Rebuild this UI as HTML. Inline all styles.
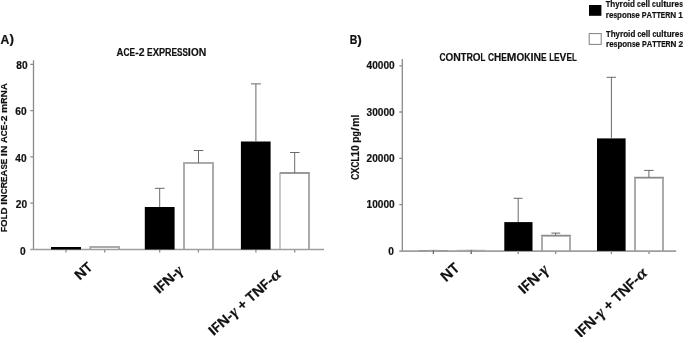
<!DOCTYPE html>
<html><head><meta charset="utf-8">
<style>
html,body{margin:0;padding:0;background:#fff;width:685px;height:337px;overflow:hidden}
svg{display:block;will-change:transform}
text{font-family:"Liberation Sans",sans-serif;font-weight:bold;fill:#111;stroke:#111;stroke-width:0.2px}
.ax{stroke:#8a8a8a;stroke-width:1.3;fill:none}
.eb{stroke:#6a6a6a;stroke-width:1;fill:none}
.wb{fill:none;stroke:#ababab;stroke-width:2}
.wt{stroke:#8a8a8a;stroke-width:1.1;fill:none}
.tk{font-size:10.5px}
.xl{font-size:14.2px}
.gr{font-family:"Liberation Serif",serif;font-style:italic;font-weight:bold;font-size:16px}
</style></head>
<body>
<svg width="685" height="337" viewBox="0 0 685 337">
<g style="stroke-width:0.45px"><text x="0.6" y="43.7" font-size="12.2">A</text><text x="9.5" y="43.3" font-size="13.6">)</text></g>
<g style="stroke-width:0.3px"><text transform="translate(116.60,55.80) scale(0.906,1)" font-size="10.6">A</text><text transform="translate(123.53,55.80) scale(0.791,1)" font-size="10.6">C</text><text transform="translate(129.58,55.80) scale(0.790,1)" font-size="10.6">E</text><text transform="translate(135.17,55.80) scale(0.992,1)" font-size="10.6">-</text><text transform="translate(138.67,55.80) scale(0.984,1)" font-size="10.6">2</text><text transform="translate(147.05,55.80) scale(0.790,1)" font-size="10.6">E</text><text transform="translate(152.64,55.80) scale(0.892,1)" font-size="10.6">X</text><text transform="translate(158.94,55.80) scale(0.861,1)" font-size="10.6">P</text><text transform="translate(165.03,55.80) scale(0.841,1)" font-size="10.6">R</text><text transform="translate(171.47,55.80) scale(0.790,1)" font-size="10.6">E</text><text transform="translate(177.05,55.80) scale(0.765,1)" font-size="10.6">S</text><text transform="translate(182.46,55.80) scale(0.765,1)" font-size="10.6">S</text><text transform="translate(187.87,55.80) scale(1.037,1)" font-size="10.6">I</text><text transform="translate(190.93,55.80) scale(0.938,1)" font-size="10.6">O</text><text transform="translate(198.66,55.80) scale(0.985,1)" font-size="10.6">N</text></g>
<g transform="translate(7.4,232.1) rotate(-90)" style="stroke-width:0.3px"><text transform="translate(0.00,0.00) scale(0.886,1)" font-size="9.6">F</text><text transform="translate(5.19,0.00) scale(1.024,1)" font-size="9.6">O</text><text transform="translate(12.84,0.00) scale(0.816,1)" font-size="9.6">L</text><text transform="translate(17.63,0.00) scale(1.028,1)" font-size="9.6">D</text><text transform="translate(27.32,0.00) scale(1.133,1)" font-size="9.6">I</text><text transform="translate(30.34,0.00) scale(1.076,1)" font-size="9.6">N</text><text transform="translate(37.79,0.00) scale(0.863,1)" font-size="9.6">C</text><text transform="translate(43.78,0.00) scale(0.919,1)" font-size="9.6">R</text><text transform="translate(50.15,0.00) scale(0.862,1)" font-size="9.6">E</text><text transform="translate(55.67,0.00) scale(0.989,1)" font-size="9.6">A</text><text transform="translate(62.53,0.00) scale(0.836,1)" font-size="9.6">S</text><text transform="translate(67.88,0.00) scale(0.862,1)" font-size="9.6">E</text><text transform="translate(75.96,0.00) scale(1.133,1)" font-size="9.6">I</text><text transform="translate(78.98,0.00) scale(1.076,1)" font-size="9.6">N</text><text transform="translate(88.99,0.00) scale(0.989,1)" font-size="9.6">A</text><text transform="translate(95.85,0.00) scale(0.863,1)" font-size="9.6">C</text><text transform="translate(101.84,0.00) scale(0.862,1)" font-size="9.6">E</text><text transform="translate(107.36,0.00) scale(1.083,1)" font-size="9.6">-</text><text transform="translate(110.82,0.00) scale(1.074,1)" font-size="9.6">2</text><text transform="translate(119.12,0.00) scale(1.078,1)" font-size="9.6">m</text><text transform="translate(128.32,0.00) scale(0.919,1)" font-size="9.6">R</text><text transform="translate(134.69,0.00) scale(1.076,1)" font-size="9.6">N</text><text transform="translate(142.14,0.00) scale(0.989,1)" font-size="9.6">A</text></g>
<g class="tk" text-anchor="end" style="font-size:10.5px">
<text x="27.6" y="69.0" textLength="11.3" lengthAdjust="spacingAndGlyphs">80</text>
<text x="26.6" y="115.3" textLength="11.3" lengthAdjust="spacingAndGlyphs">60</text>
<text x="26.6" y="161.5" textLength="11.3" lengthAdjust="spacingAndGlyphs">40</text>
<text x="27.1" y="208.2" textLength="11.3" lengthAdjust="spacingAndGlyphs">20</text>
<text x="25.7" y="254.9" textLength="5.65" lengthAdjust="spacingAndGlyphs">0</text>
</g>
<path class="ax" d="M33.5 60.3V249.5M30.3 64.3H33.5M30.3 110.6H33.5M30.3 156.9H33.5M30.3 203.2H33.5"/>
<path class="ax" d="M66 249.5v3M104.7 249.5v3M159.7 249.5v3M198.4 249.5v3M255.9 249.5v3M294.7 249.5v3" stroke-width="1"/>
<path class="wb" d="M90.3 249.5V247H119V249.5"/>
<path class="wb" d="M184 249.5V163H213V249.5"/>
<path class="wb" d="M280 249.5V173" style="stroke:#c6c6c6"/><path class="wb" d="M280 173H309V249.5"/><path class="wt" d="M279.5 173H309.5"/>
<path class="ax" d="M30.3 249.5H324" style="stroke:#9e9e9e;stroke-width:1.6"/>
<rect x="51" y="247" width="30" height="2.5" fill="#000"/>
<rect x="144.8" y="207" width="29.8" height="42.5" fill="#000"/>
<rect x="240.9" y="141.5" width="29.7" height="108" fill="#000"/>
<path class="eb" d="M159.7 207V188.3M154.8 188.3H164.6M198.5 163V150.5M193.8 150.5H203.3M255.9 141.5V83.9M251 83.9H260.9M294.7 173V152.5M290 152.5H299.6"/>
<g style="stroke-width:0.45px"><text x="349.8" y="43.9" font-size="12.2" textLength="7.6" lengthAdjust="spacingAndGlyphs">B</text><text x="357.2" y="43.5" font-size="13.6">)</text></g>
<g style="stroke-width:0.3px"><text transform="translate(439.40,61.40) scale(0.769,1)" font-size="10.9">C</text><text transform="translate(445.45,61.40) scale(0.912,1)" font-size="10.9">O</text><text transform="translate(453.18,61.40) scale(0.958,1)" font-size="10.9">N</text><text transform="translate(460.72,61.40) scale(0.850,1)" font-size="10.9">T</text><text transform="translate(466.38,61.40) scale(0.818,1)" font-size="10.9">R</text><text transform="translate(472.82,61.40) scale(0.912,1)" font-size="10.9">O</text><text transform="translate(480.56,61.40) scale(0.727,1)" font-size="10.9">L</text><text transform="translate(487.98,61.40) scale(0.769,1)" font-size="10.9">C</text><text transform="translate(494.03,61.40) scale(0.917,1)" font-size="10.9">H</text><text transform="translate(501.25,61.40) scale(0.768,1)" font-size="10.9">E</text><text transform="translate(506.83,61.40) scale(1.058,1)" font-size="10.9">M</text><text transform="translate(516.44,61.40) scale(0.912,1)" font-size="10.9">O</text><text transform="translate(524.17,61.40) scale(0.795,1)" font-size="10.9">K</text><text transform="translate(530.43,61.40) scale(1.009,1)" font-size="10.9">I</text><text transform="translate(533.48,61.40) scale(0.958,1)" font-size="10.9">N</text><text transform="translate(541.02,61.40) scale(0.768,1)" font-size="10.9">E</text><text transform="translate(549.19,61.40) scale(0.727,1)" font-size="10.9">L</text><text transform="translate(554.03,61.40) scale(0.768,1)" font-size="10.9">E</text><text transform="translate(559.61,61.40) scale(0.931,1)" font-size="10.9">V</text><text transform="translate(566.38,61.40) scale(0.768,1)" font-size="10.9">E</text><text transform="translate(571.96,61.40) scale(0.727,1)" font-size="10.9">L</text></g>
<g transform="translate(358.6,179.8) rotate(-90)" style="stroke-width:0.3px"><text transform="translate(0.00,0.00) scale(0.799,1)" font-size="10.4">C</text><text transform="translate(6.00,0.00) scale(0.901,1)" font-size="10.4">X</text><text transform="translate(12.25,0.00) scale(0.799,1)" font-size="10.4">C</text><text transform="translate(18.25,0.00) scale(0.755,1)" font-size="10.4">L</text><text transform="translate(23.04,0.00) scale(0.994,1)" font-size="10.4">1</text><text transform="translate(28.79,0.00) scale(0.994,1)" font-size="10.4">0</text><text transform="translate(37.10,0.00) scale(0.959,1)" font-size="10.4">p</text><text transform="translate(43.19,0.00) scale(0.846,1)" font-size="10.4">g</text><text transform="translate(49.12,0.00) scale(1.150,1)" font-size="10.4">/</text><text transform="translate(52.99,0.00) scale(0.997,1)" font-size="10.4">m</text><text transform="translate(62.21,0.00) scale(0.965,1)" font-size="10.4">l</text></g>
<g class="tk" text-anchor="end">
<text x="394.7" y="69.1" textLength="28.1" lengthAdjust="spacingAndGlyphs">40000</text>
<text x="394.7" y="115.5" textLength="28.1" lengthAdjust="spacingAndGlyphs">30000</text>
<text x="394.7" y="161.9" textLength="28.1" lengthAdjust="spacingAndGlyphs">20000</text>
<text x="394.7" y="208.3" textLength="28.1" lengthAdjust="spacingAndGlyphs">10000</text>
<text x="393.8" y="255.3" textLength="5.65" lengthAdjust="spacingAndGlyphs">0</text>
</g>
<path class="ax" d="M402.3 59.1V250.9M399.3 65.8H402.3M399.3 112H402.3M399.3 158.4H402.3M399.3 204.6H402.3"/>
<path class="ax" d="M433.4 250.9v3.2M471.2 250.9v3.2M518.2 250.9v3.2M555.6 250.9v3.2M611.4 250.9v3.2M649 250.9v3.2" stroke-width="1"/>
<path class="wb" d="M542 250.9V235.8H570V250.9"/><path class="wt" d="M541.5 235.5H570.5"/>
<path class="wb" d="M635 250.9V177.8H663V250.9"/><path class="wt" d="M634.5 177.5H663.5"/>
<path class="ax" d="M399.3 251.1H676.2" style="stroke:#9e9e9e;stroke-width:1.6"/>
<rect x="418.8" y="250" width="29.2" height="1.2" fill="#999"/>
<rect x="456.6" y="249.8" width="29.2" height="1" fill="#aaa"/>
<rect x="504.3" y="222.1" width="28.2" height="28.8" fill="#000"/>
<rect x="597" y="138.4" width="28.6" height="112.5" fill="#000"/>
<path class="eb" d="M428.7 250.3H438M466.4 250.3H475.9" style="stroke:#aaa"/><path class="eb" d="M433.4 250V254M471.2 250V254M518.2 222V198.3M513.6 198.3H522.6M555.6 235.5V233.1M551.4 233.1H560.2M611.4 138.4V77.3M606.6 77.3H616.1M648.9 177.5V170.4M644.1 170.4H653.6"/>
<g transform="translate(93.5,268.5) rotate(-42)" style="stroke-width:0.25px"><text transform="translate(-18.46,0.00) scale(1.043,1)" font-size="14.0">N</text><text transform="translate(-7.92,0.00) scale(0.926,1)" font-size="14.0">T</text></g>
<g transform="translate(184,271.8) rotate(-42)" style="stroke-width:0.25px"><text transform="translate(-33.63,0.00) scale(1.098,1)" font-size="14.0">I</text><text transform="translate(-29.36,0.00) scale(0.859,1)" font-size="14.0">F</text><text transform="translate(-22.02,0.00) scale(1.043,1)" font-size="14.0">N</text><text transform="translate(-11.47,0.00) scale(1.050,1)" font-size="14.0">-</text><text class="gr" transform="translate(-6.58,0.00) scale(1.008,1)" style="font-size:15.68px">γ</text></g>
<g transform="translate(282.4,275.3) rotate(-41.5)" style="stroke-width:0.25px"><text transform="translate(-91.87,0.00) scale(1.118,1)" font-size="14.1">I</text><text transform="translate(-87.49,0.00) scale(0.874,1)" font-size="14.1">F</text><text transform="translate(-79.97,0.00) scale(1.061,1)" font-size="14.1">N</text><text transform="translate(-69.16,0.00) scale(1.069,1)" font-size="14.1">-</text><text class="gr" transform="translate(-64.14,0.00) scale(1.026,1)" style="font-size:15.79px">γ</text><text transform="translate(-53.69,0.00) scale(0.992,1)" font-size="14.1">+</text><text transform="translate(-41.82,0.00) scale(0.943,1)" font-size="14.1">T</text><text transform="translate(-33.70,0.00) scale(1.061,1)" font-size="14.1">N</text><text transform="translate(-22.89,0.00) scale(0.874,1)" font-size="14.1">F</text><text transform="translate(-15.37,0.00) scale(1.069,1)" font-size="14.1">-</text><text class="gr" transform="translate(-10.20,0.00) scale(1.150,1)" style="font-size:15.79px">α</text></g>
<g transform="translate(460.5,269.5) rotate(-42)" style="stroke-width:0.25px"><text transform="translate(-19.39,0.00) scale(1.036,1)" font-size="14.8">N</text><text transform="translate(-8.32,0.00) scale(0.920,1)" font-size="14.8">T</text></g>
<g transform="translate(549.5,271.2) rotate(-42.5)" style="stroke-width:0.25px"><text transform="translate(-34.89,0.00) scale(1.085,1)" font-size="14.7">I</text><text transform="translate(-30.46,0.00) scale(0.849,1)" font-size="14.7">F</text><text transform="translate(-22.84,0.00) scale(1.030,1)" font-size="14.7">N</text><text transform="translate(-11.90,0.00) scale(1.038,1)" font-size="14.7">-</text><text class="gr" transform="translate(-6.82,0.00) scale(0.996,1)" style="font-size:16.46px">γ</text></g>
<g transform="translate(648.4,273.9) rotate(-43.5)" style="stroke-width:0.25px"><text transform="translate(-93.55,0.00) scale(1.115,1)" font-size="14.4">I</text><text transform="translate(-89.09,0.00) scale(0.871,1)" font-size="14.4">F</text><text transform="translate(-81.43,0.00) scale(1.058,1)" font-size="14.4">N</text><text transform="translate(-70.42,0.00) scale(1.066,1)" font-size="14.4">-</text><text class="gr" transform="translate(-65.31,0.00) scale(1.023,1)" style="font-size:16.13px">γ</text><text transform="translate(-54.68,0.00) scale(0.989,1)" font-size="14.4">+</text><text transform="translate(-42.58,0.00) scale(0.940,1)" font-size="14.4">T</text><text transform="translate(-34.32,0.00) scale(1.058,1)" font-size="14.4">N</text><text transform="translate(-23.31,0.00) scale(0.871,1)" font-size="14.4">F</text><text transform="translate(-15.65,0.00) scale(1.066,1)" font-size="14.4">-</text><text class="gr" transform="translate(-10.40,0.00) scale(1.150,1)" style="font-size:16.13px">α</text></g>
<rect x="589" y="5" width="12.4" height="10.8" fill="#000"/>
<rect x="589.2" y="33.6" width="12" height="10.8" fill="#fff" stroke="#808080" stroke-width="1"/>
<g style="stroke-width:0.3px"><text transform="translate(605.80,7.40) scale(0.875,1)" font-size="8.5">T</text><text transform="translate(610.34,7.40) scale(0.949,1)" font-size="8.5">h</text><text transform="translate(615.27,7.40) scale(0.920,1)" font-size="8.5">y</text><text transform="translate(619.62,7.40) scale(0.985,1)" font-size="8.5">r</text><text transform="translate(622.88,7.40) scale(0.951,1)" font-size="8.5">o</text><text transform="translate(627.82,7.40) scale(0.956,1)" font-size="8.5">i</text><text transform="translate(630.08,7.40) scale(0.949,1)" font-size="8.5">d</text><text transform="translate(637.08,7.40) scale(0.812,1)" font-size="8.5">c</text><text transform="translate(640.92,7.40) scale(0.977,1)" font-size="8.5">e</text><text transform="translate(645.53,7.40) scale(0.956,1)" font-size="8.5">l</text><text transform="translate(647.79,7.40) scale(0.956,1)" font-size="8.5">l</text><text transform="translate(652.12,7.40) scale(0.812,1)" font-size="8.5">c</text><text transform="translate(655.96,7.40) scale(0.949,1)" font-size="8.5">u</text><text transform="translate(660.89,7.40) scale(0.956,1)" font-size="8.5">l</text><text transform="translate(663.15,7.40) scale(1.125,1)" font-size="8.5">t</text><text transform="translate(666.33,7.40) scale(0.949,1)" font-size="8.5">u</text><text transform="translate(671.26,7.40) scale(0.985,1)" font-size="8.5">r</text><text transform="translate(674.52,7.40) scale(0.977,1)" font-size="8.5">e</text><text transform="translate(679.14,7.40) scale(0.775,1)" font-size="8.5">s</text></g>
<g style="stroke-width:0.3px"><text transform="translate(605.80,17.60) scale(0.964,1)" font-size="8.5">r</text><text transform="translate(608.99,17.60) scale(0.956,1)" font-size="8.5">e</text><text transform="translate(613.51,17.60) scale(0.759,1)" font-size="8.5">s</text><text transform="translate(617.10,17.60) scale(0.929,1)" font-size="8.5">p</text><text transform="translate(621.92,17.60) scale(0.931,1)" font-size="8.5">o</text><text transform="translate(626.76,17.60) scale(0.929,1)" font-size="8.5">n</text><text transform="translate(631.58,17.60) scale(0.759,1)" font-size="8.5">s</text><text transform="translate(635.17,17.60) scale(0.956,1)" font-size="8.5">e</text><text transform="translate(641.72,17.60) scale(0.843,1)" font-size="8.5">P</text><text transform="translate(646.50,17.60) scale(0.887,1)" font-size="8.5">A</text><text transform="translate(651.95,17.60) scale(0.857,1)" font-size="8.5">T</text><text transform="translate(656.40,17.60) scale(0.857,1)" font-size="8.5">T</text><text transform="translate(660.84,17.60) scale(0.774,1)" font-size="8.5">E</text><text transform="translate(665.23,17.60) scale(0.824,1)" font-size="8.5">R</text><text transform="translate(670.29,17.60) scale(0.965,1)" font-size="8.5">N</text><text transform="translate(678.24,17.60) scale(0.964,1)" font-size="8.5">1</text></g>
<g style="stroke-width:0.3px"><text transform="translate(606.10,37.30) scale(0.875,1)" font-size="8.5">T</text><text transform="translate(610.64,37.30) scale(0.949,1)" font-size="8.5">h</text><text transform="translate(615.57,37.30) scale(0.920,1)" font-size="8.5">y</text><text transform="translate(619.92,37.30) scale(0.985,1)" font-size="8.5">r</text><text transform="translate(623.18,37.30) scale(0.951,1)" font-size="8.5">o</text><text transform="translate(628.12,37.30) scale(0.956,1)" font-size="8.5">i</text><text transform="translate(630.38,37.30) scale(0.949,1)" font-size="8.5">d</text><text transform="translate(637.38,37.30) scale(0.812,1)" font-size="8.5">c</text><text transform="translate(641.22,37.30) scale(0.977,1)" font-size="8.5">e</text><text transform="translate(645.83,37.30) scale(0.956,1)" font-size="8.5">l</text><text transform="translate(648.09,37.30) scale(0.956,1)" font-size="8.5">l</text><text transform="translate(652.42,37.30) scale(0.812,1)" font-size="8.5">c</text><text transform="translate(656.26,37.30) scale(0.949,1)" font-size="8.5">u</text><text transform="translate(661.19,37.30) scale(0.956,1)" font-size="8.5">l</text><text transform="translate(663.45,37.30) scale(1.125,1)" font-size="8.5">t</text><text transform="translate(666.63,37.30) scale(0.949,1)" font-size="8.5">u</text><text transform="translate(671.56,37.30) scale(0.985,1)" font-size="8.5">r</text><text transform="translate(674.82,37.30) scale(0.977,1)" font-size="8.5">e</text><text transform="translate(679.44,37.30) scale(0.775,1)" font-size="8.5">s</text></g>
<g style="stroke-width:0.3px"><text transform="translate(606.10,47.40) scale(0.964,1)" font-size="8.5">r</text><text transform="translate(609.29,47.40) scale(0.956,1)" font-size="8.5">e</text><text transform="translate(613.81,47.40) scale(0.759,1)" font-size="8.5">s</text><text transform="translate(617.40,47.40) scale(0.929,1)" font-size="8.5">p</text><text transform="translate(622.22,47.40) scale(0.931,1)" font-size="8.5">o</text><text transform="translate(627.06,47.40) scale(0.929,1)" font-size="8.5">n</text><text transform="translate(631.88,47.40) scale(0.759,1)" font-size="8.5">s</text><text transform="translate(635.47,47.40) scale(0.956,1)" font-size="8.5">e</text><text transform="translate(642.02,47.40) scale(0.843,1)" font-size="8.5">P</text><text transform="translate(646.80,47.40) scale(0.887,1)" font-size="8.5">A</text><text transform="translate(652.25,47.40) scale(0.857,1)" font-size="8.5">T</text><text transform="translate(656.70,47.40) scale(0.857,1)" font-size="8.5">T</text><text transform="translate(661.14,47.40) scale(0.774,1)" font-size="8.5">E</text><text transform="translate(665.53,47.40) scale(0.824,1)" font-size="8.5">R</text><text transform="translate(670.59,47.40) scale(0.965,1)" font-size="8.5">N</text><text transform="translate(678.54,47.40) scale(0.964,1)" font-size="8.5">2</text></g>
</svg>
</body></html>
